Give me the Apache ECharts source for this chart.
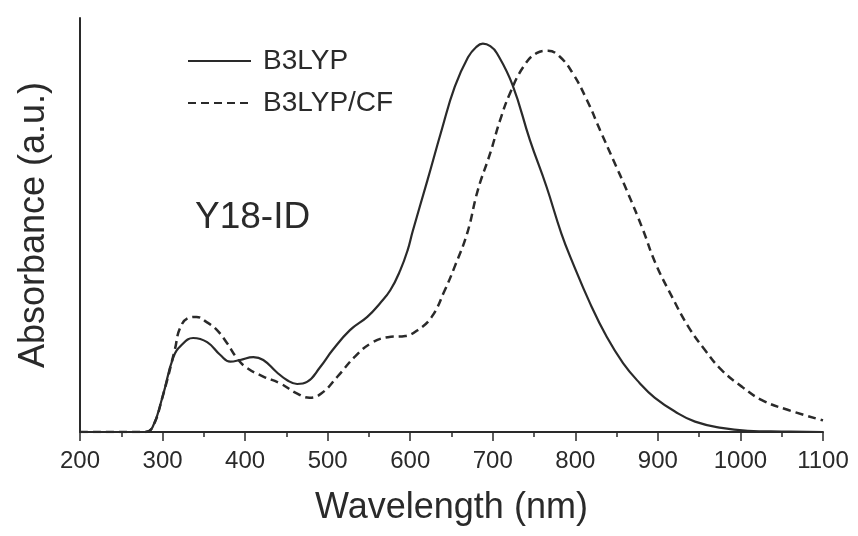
<!DOCTYPE html>
<html>
<head>
<meta charset="utf-8">
<script src="https://cdn.jsdelivr.net/npm/echarts@6/dist/echarts.min.js"></script>
<style>
html,body{margin:0;padding:0;background:#fff;}
#chart{width:858px;height:536px;}
</style>
</head>
<body>
<div id="chart"></div>
<script>
// Data (wavelength nm, absorbance a.u.)
var seriesNames = ['B3LYP', 'B3LYP/CF'];
var xTicks = [200, 300, 400, 500, 600, 700, 800, 900, 1000, 1100];

var b3lypWavelength = [200, 279, 288, 300, 313, 323, 337, 354, 370, 382, 394, 410, 422, 438, 451, 463, 475, 491, 506, 527, 548, 563, 576, 588, 597, 603, 621, 638, 654, 670, 680, 688, 697, 705, 724, 745, 765, 783, 797, 818, 838, 858, 878, 896, 921, 945, 977, 1009, 1050, 1100];
var b3lypAbsorbance = [0, 0, 0.012, 0.085, 0.18, 0.21, 0.227, 0.217, 0.186, 0.17, 0.174, 0.181, 0.174, 0.145, 0.125, 0.116, 0.121, 0.157, 0.198, 0.246, 0.278, 0.31, 0.343, 0.391, 0.44, 0.485, 0.609, 0.729, 0.834, 0.905, 0.93, 0.938, 0.932, 0.915, 0.838, 0.705, 0.593, 0.48, 0.408, 0.31, 0.23, 0.166, 0.118, 0.083, 0.049, 0.025, 0.01, 0.003, 0.001, 0];

var cfWavelength = [200, 279, 288, 300, 315, 321, 331, 341, 353, 366, 378, 390, 402, 422, 442, 462, 478, 493, 512, 533, 553, 573, 594, 609, 626, 642, 654, 669, 682, 697, 709, 721, 737, 753, 767, 781, 797, 814, 830, 846, 862, 882, 897, 917, 937, 957, 977, 1002, 1026, 1058, 1100];
var cfAbsorbance = [0, 0, 0.012, 0.085, 0.2, 0.25, 0.275, 0.278, 0.266, 0.246, 0.215, 0.179, 0.155, 0.134, 0.118, 0.094, 0.083, 0.094, 0.134, 0.182, 0.215, 0.229, 0.232, 0.246, 0.278, 0.343, 0.4, 0.48, 0.585, 0.674, 0.754, 0.819, 0.882, 0.915, 0.921, 0.907, 0.866, 0.802, 0.729, 0.657, 0.585, 0.488, 0.408, 0.327, 0.254, 0.198, 0.15, 0.109, 0.077, 0.053, 0.028];

var annotation = 'Y18-ID';

function pairs(xs, ys) {
  var out = [];
  for (var i = 0; i < xs.length; i++) out.push([xs[i], ys[i]]);
  return out;
}

var FONT = "'Liberation Sans', Arial, Helvetica, sans-serif";
var INK = '#2a2a2a';

var chart = echarts.init(document.getElementById('chart'), null, {renderer: 'canvas'});
chart.setOption({
  backgroundColor: '#ffffff',
  animation: false,
  textStyle: {fontFamily: FONT, color: INK},
  grid: {left: 80, right: 35, top: 18, bottom: 104, containLabel: false, outerBoundsMode: 'none'},
  legend: {
    orient: 'vertical',
    left: 187,
    top: 47,
    padding: 0,
    itemWidth: 63,
    itemHeight: 14,
    itemGap: 14,
    itemStyle: {color: 'transparent', borderColor: 'transparent', borderWidth: 0, opacity: 0},
    textStyle: {fontSize: 28, color: INK, fontFamily: FONT, padding: [0, 0, 0, 7]},
    data: seriesNames
  },
  xAxis: {
    type: 'value',
    min: xTicks[0],
    max: xTicks[xTicks.length - 1],
    interval: 100,
    name: 'Wavelength (nm)',
    nameLocation: 'middle',
    nameGap: 58,
    nameTextStyle: {fontSize: 36, color: INK, fontFamily: FONT},
    axisLine: {show: true, onZero: false, lineStyle: {color: INK, width: 2}},
    axisTick: {show: true, inside: false, length: 9, lineStyle: {color: INK, width: 1.5}},
    minorTick: {show: true, splitNumber: 2, length: 5, lineStyle: {color: INK, width: 1.5}},
    axisLabel: {fontSize: 24, color: INK, margin: 17, fontFamily: FONT, formatter: function (v) { return String(v); }},
    splitLine: {show: false},
    minorSplitLine: {show: false}
  },
  yAxis: {
    type: 'value',
    min: 0,
    max: 1,
    name: 'Absorbance (a.u.)',
    nameLocation: 'middle',
    nameGap: 28,
    nameTextStyle: {fontSize: 36, color: INK, fontFamily: FONT},
    axisLine: {show: true, onZero: false, lineStyle: {color: INK, width: 2}},
    axisTick: {show: false},
    axisLabel: {show: false},
    splitLine: {show: false}
  },
  graphic: [{
    type: 'text',
    left: 195,
    top: 199,
    style: {text: annotation, font: '37px ' + FONT, fill: INK}
  }],
  series: [{
    name: seriesNames[0],
    type: 'line',
    data: pairs(b3lypWavelength, b3lypAbsorbance),
    showSymbol: false,
    symbol: 'none',
    smooth: 0.45,
    lineStyle: {color: INK, width: 2.2, type: 'solid'},
    itemStyle: {color: INK},
    z: 3
  }, {
    name: seriesNames[1],
    type: 'line',
    data: pairs(cfWavelength, cfAbsorbance),
    showSymbol: false,
    symbol: 'none',
    smooth: 0.45,
    lineStyle: {color: INK, width: 2.5, type: [8, 5]},
    itemStyle: {color: INK},
    z: 2
  }]
});
</script>
</body>
</html>
